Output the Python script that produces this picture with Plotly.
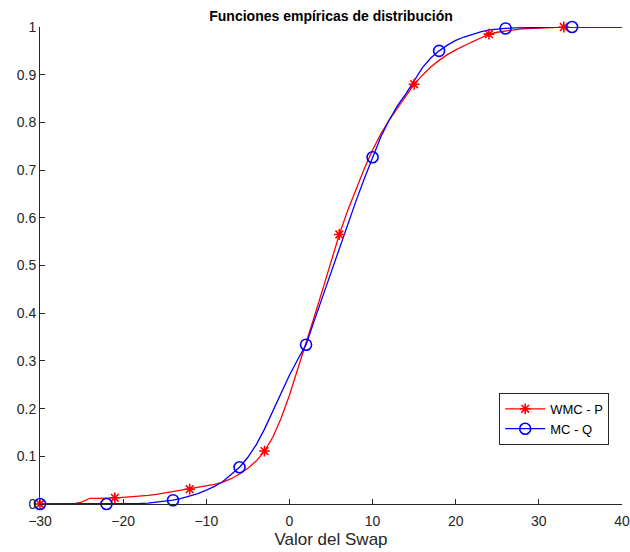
import plotly.graph_objects as go

# Empirical distribution functions evaluated on an integer grid of swap values
x_vals = list(range(-30, 41))

wmc_p = [
    0.000, 0.000, 0.000, 0.000, 0.000, 0.004, 0.012, 0.012, 0.012, 0.013,   # -30 .. -21
    0.014, 0.015, 0.017, 0.018, 0.020, 0.023, 0.026, 0.028, 0.031, 0.034,   # -20 .. -11
    0.038, 0.041, 0.046, 0.053, 0.063, 0.075, 0.090, 0.111, 0.140, 0.180,   # -10 .. -1
    0.228, 0.282, 0.337, 0.393, 0.450, 0.507, 0.565, 0.615, 0.660, 0.703,   # 0 .. 9
    0.742, 0.776, 0.805, 0.830, 0.855, 0.880, 0.899, 0.916, 0.930, 0.942,   # 10 .. 19
    0.952, 0.961, 0.969, 0.977, 0.985, 0.989, 0.992, 0.994, 0.996, 0.997,   # 20 .. 29
    0.998, 0.999, 0.9995, 1.000, 1.000, 1.000, 1.000, 1.000, 1.000, 1.000,  # 30 .. 39
    1.000,                                                                  # 40
]

mc_q = [
    0.000, 0.000, 0.000, 0.000, 0.000, 0.000, 0.000, 0.000, 0.000, 0.000,   # -30 .. -21
    0.000, 0.000, 0.001, 0.002, 0.004, 0.006, 0.008, 0.012, 0.017, 0.022,   # -20 .. -11
    0.029, 0.037, 0.047, 0.061, 0.077, 0.098, 0.124, 0.157, 0.194, 0.233,   # -10 .. -1
    0.270, 0.303, 0.334, 0.385, 0.435, 0.487, 0.535, 0.585, 0.635, 0.682,   # 0 .. 9
    0.727, 0.770, 0.805, 0.835, 0.860, 0.887, 0.915, 0.935, 0.950, 0.962,   # 10 .. 19
    0.972, 0.979, 0.985, 0.990, 0.994, 0.996, 0.997, 0.998, 0.998, 0.999,   # 20 .. 29
    0.999, 1.000, 1.000, 1.000, 1.000, 1.000, 1.000, 1.000, 1.000, 1.000,   # 30 .. 39
    1.000,                                                                  # 40
]

series_names = ["WMC - P", "MC - Q"]
x_ticks = [-30, -20, -10, 0, 10, 20, 30, 40]
y_ticks = [0, 0.1, 0.2, 0.3, 0.4, 0.5, 0.6, 0.7, 0.8, 0.9, 1]
y_tick_text = ["0", "0.1", "0.2", "0.3", "0.4", "0.5", "0.6", "0.7", "0.8", "0.9", "1"]

RED = "#FF0000"
BLUE = "#0000FF"
AXIS = "#262626"
FONT = "Liberation Sans, Arial, Helvetica, sans-serif"

# Markers are drawn on every n-th sample only
red_step, blue_step = 9, 8

red_marker = dict(symbol="asterisk-open", size=9, color=RED,
                  line=dict(color=RED, width=1.6))
blue_marker = dict(symbol="circle-open", size=11, color=BLUE,
                   line=dict(color=BLUE, width=1.6))


def every(seq, n):
    return seq[::n]


fig = go.Figure()

# continuous lines
fig.add_trace(go.Scatter(x=x_vals, y=wmc_p, mode="lines",
                         line=dict(color=RED, width=1.3),
                         showlegend=False, cliponaxis=False, hoverinfo="skip"))
fig.add_trace(go.Scatter(x=x_vals, y=mc_q, mode="lines",
                         line=dict(color=BLUE, width=1.3),
                         showlegend=False, cliponaxis=False, hoverinfo="skip"))

# sparse markers
fig.add_trace(go.Scatter(x=every(x_vals, red_step), y=every(wmc_p, red_step),
                         mode="markers", showlegend=False, cliponaxis=False,
                         marker=red_marker))
fig.add_trace(go.Scatter(x=every(x_vals, blue_step), y=every(mc_q, blue_step),
                         mode="markers", showlegend=False, cliponaxis=False,
                         marker=blue_marker))

# legend entries (line + marker)
fig.add_trace(go.Scatter(x=[None], y=[None], mode="lines+markers", name=series_names[0],
                         line=dict(color=RED, width=1.3), marker=red_marker))
fig.add_trace(go.Scatter(x=[None], y=[None], mode="lines+markers", name=series_names[1],
                         line=dict(color=BLUE, width=1.3), marker=blue_marker))

fig.update_layout(
    width=630, height=552,
    margin=dict(l=40, r=8, t=27, b=48),
    paper_bgcolor="white", plot_bgcolor="white",
    font=dict(family=FONT, size=14, color=AXIS),
    title=dict(text="<b>Funciones empíricas de distribución</b>",
               x=0.5, xref="paper", xanchor="center",
               y=1 - 16 / 552, yanchor="middle",
               font=dict(family=FONT, size=14, color="#000000")),
    xaxis=dict(range=[-30, 40], tickvals=x_ticks, ticks="inside", ticklen=5,
               tickcolor=AXIS, showline=True, linecolor=AXIS, linewidth=1,
               showgrid=False, zeroline=False, mirror=False, automargin=False,
               ticklabelstandoff=4,
               title=dict(text="Valor del Swap", font=dict(size=17, color=AXIS), standoff=5),
               tickfont=dict(size=14, color=AXIS)),
    yaxis=dict(range=[0, 1], tickvals=y_ticks, ticktext=y_tick_text,
               ticks="inside", ticklen=5, tickcolor=AXIS,
               showline=True, linecolor=AXIS, linewidth=1,
               showgrid=False, zeroline=False, mirror=False, automargin=False,
               tickfont=dict(size=14, color=AXIS)),
    legend=dict(x=0.978, y=0.233, xanchor="right", yanchor="top",
                bgcolor="white", bordercolor=AXIS, borderwidth=1,
                font=dict(family=FONT, size=13, color="#000000"),
                tracegroupgap=0, itemwidth=40),
)

fig.write_html("out.html")
